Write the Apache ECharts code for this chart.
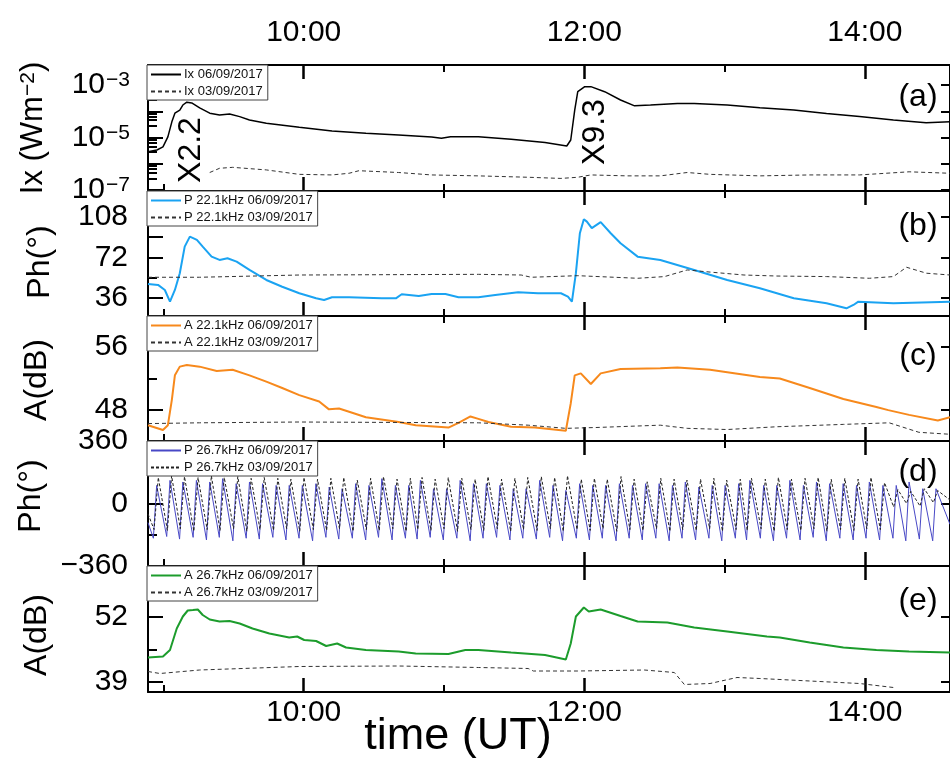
<!DOCTYPE html>
<html><head><meta charset="utf-8">
<script src="https://cdn.jsdelivr.net/npm/echarts@6/dist/echarts.min.js"></script>
<style>html,body{margin:0;padding:0;background:#fff}#c{width:950px;height:760px}</style>
</head><body><div id="c"></div>
<script>
// ---------- DATA (time in minutes of day UT) ----------
const timeMin = 533.4, timeMax = 876.4;
const xMajorTicks = [600, 720, 840];   // 10:00 12:00 14:00
const xMinorTicks = [540, 660, 780];   // 09:00 11:00 13:00

// (a) X-ray flux Ix (W m^-2)
const ix0609 = [[533.4,2.88e-6],[537.2,3.39e-6],[539.8,4.47e-6],[541.9,1.07e-5],[543.6,3.98e-5],[544.9,8.5e-5],[547.0,1.12e-4],[548.3,1.74e-4],[550.0,2.24e-4],[552.1,2.09e-4],[555.5,1.35e-4],[559.8,8.5e-5],[564.0,7.2e-5],[568.3,7.9e-5],[572.6,6.3e-5],[576.8,4.7e-5],[584.0,3.5e-5],[598.1,2.5e-5],[612.1,1.8e-5],[626.6,1.48e-5],[640.6,1.26e-5],[654.7,1.05e-5],[658.9,9.5e-6],[662.8,1.07e-5],[674.7,1.07e-5],[688.7,8.7e-6],[703.2,6.5e-6],[712.5,4.8e-6],[714.2,8.1e-6],[715.9,1.12e-4],[717.2,5.6e-4],[720.2,8.7e-4],[722.8,8.7e-4],[728.7,5.6e-4],[735.5,2.7e-4],[741.5,1.62e-4],[748.3,1.74e-4],[759.8,2.0e-4],[767.0,2.0e-4],[781.1,1.74e-4],[795.1,1.38e-4],[809.6,1.12e-4],[823.6,8.3e-5],[837.7,6.3e-5],[852.2,4.7e-5],[866.2,3.7e-5],[876.4,4.0e-5]];
const ix0309 = [[559.8,4.7e-7],[564.0,6.8e-7],[569.6,7.4e-7],[584.0,5.9e-7],[598.1,4.0e-7],[612.1,3.8e-7],[619.4,4.4e-7],[623.6,5.5e-7],[640.6,4.7e-7],[654.7,3.8e-7],[674.7,3.5e-7],[696.0,3.1e-7],[710.0,2.8e-7],[717.2,3.1e-7],[722.8,3.8e-7],[738.5,3.5e-7],[752.5,3.5e-7],[764.0,4.7e-7],[773.8,4.0e-7],[795.1,3.5e-7],[816.4,3.8e-7],[837.7,3.8e-7],[858.9,5.0e-7],[876.4,4.4e-7]];

// (b) phase 22.1 kHz (deg)
const p221_0609 = [[533.4,48.4],[537.7,47.6],[540.6,43.1],[542.8,32.7],[544.9,43.1],[547.0,58],[549.1,81.6],[551.3,90.5],[554.3,87.6],[556.8,81.6],[560.6,72.7],[564.0,69.8],[567.4,71.3],[571.3,68.3],[576.8,60.9],[584.0,52],[590.8,46],[598.1,40.2],[605.3,35.7],[608.7,34.2],[612.1,36.6],[619.4,36.6],[633.4,35.7],[639.4,35.7],[641.9,39.3],[649.2,37.8],[654.7,39.6],[660.6,39.6],[666.2,36.6],[674.7,36.6],[681.9,38.7],[691.7,41.1],[700.2,40.2],[710.0,40.2],[713.0,37.2],[714.7,32.7],[716.4,58],[718.1,93.5],[719.8,106],[721.1,103.8],[723.2,98],[727.0,103.3],[731.3,93.5],[735.5,84.6],[742.8,72.7],[752.5,69.8],[767.0,60.9],[781.1,52],[795.1,44.6],[809.6,35.7],[823.6,31.3],[832.1,26.8],[835.1,29.8],[837.2,32.7],[852.2,31.3],[876.4,32.7]];
const p221_0309 = [[533.4,54.4],[541.5,54.4],[555.5,54.4],[598.1,56.4],[674.7,57],[693.0,56.4],[697.3,54.4],[717.2,55.8],[742.8,53.5],[754.3,55],[764.0,60.9],[773.8,59],[788.3,56.4],[802.3,55.5],[823.6,55],[841.9,53.5],[852.2,55],[857.8,63.3],[866.3,58],[876.4,56.4]];

// (c) amplitude 22.1 kHz (dB)
const a221_0609 = [[533.4,46.1],[539.8,45.5],[541.9,46.1],[543.6,49.3],[544.9,52.4],[547.0,53.5],[550.0,53.7],[555.5,53.5],[562.8,52.95],[569.6,53.1],[576.8,52.4],[584.0,51.6],[590.8,50.8],[598.1,49.9],[606.6,49.1],[610.8,48.1],[615.1,48.2],[619.4,47.8],[626.6,47.1],[640.6,46.5],[647.9,46.1],[661.9,45.8],[666.2,46.4],[671.3,47.2],[674.7,46.9],[679.0,46.5],[688.7,45.9],[698.9,45.8],[712.1,45.4],[714.2,48.85],[715.9,52.4],[718.5,52.65],[722.8,51.3],[727.0,52.65],[735.5,53.2],[752.5,53.3],[759.8,53.4],[773.8,53.1],[795.1,52.2],[803.6,52.0],[816.4,50.8],[830.8,49.4],[844.9,48.4],[850.0,48.0],[858.9,47.4],[871.2,46.7],[876.4,47.1]];
const a221_0309 = [[533.4,46.3],[555.5,46.4],[598.1,46.5],[674.7,46.4],[696.0,46.1],[712.1,45.7],[724.5,45.8],[752.5,46.1],[764.0,45.7],[781.1,45.55],[802.3,45.9],[830.8,46.2],[850.4,46.4],[863.1,45.2],[876.4,44.95]];

// (d) phase 26.7 kHz (deg)
const p267_0609 = [[533.4,-110],[535.7,-200],[537.1,104],[541.4,-190],[542.8,133],[546.9,-205],[548.3,124],[552.7,-195],[554.1,133],[558.4,-210],[559.8,124],[563.9,-195],[565.3,143],[569.7,-215],[571.1,114],[575.4,-200],[576.8,124],[581.0,-205],[582.4,114],[586.8,-195],[588.2,104],[592.4,-210],[593.8,104],[598.0,-200],[599.4,104],[603.8,-215],[605.2,114],[609.5,-195],[610.9,95],[615.0,-205],[616.4,85],[620.8,-200],[622.2,114],[626.5,-210],[627.9,104],[632.0,-195],[633.4,143],[637.8,-210],[639.2,104],[643.5,-200],[644.9,104],[648.5,-205],[649.9,133],[654.1,-195],[655.5,85],[659.7,-210],[661.1,85],[665.5,-200],[666.9,133],[671.2,-215],[672.6,114],[676.7,-200],[678.1,114],[682.5,-195],[683.9,104],[688.2,-210],[689.6,85],[693.7,-200],[695.1,85],[699.5,-205],[700.9,133],[705.2,-195],[706.6,104],[710.7,-215],[712.1,75],[716.6,-200],[718.0,114],[722.2,-210],[723.6,104],[727.7,-200],[729.1,104],[733.6,-215],[735.0,114],[739.2,-200],[740.6,104],[744.8,-210],[746.2,114],[750.6,-200],[752.0,114],[756.3,-215],[757.7,104],[761.8,-200],[763.2,124],[767.6,-210],[769.0,95],[773.3,-200],[774.7,104],[778.8,-215],[780.2,104],[784.6,-200],[786.0,114],[789.4,-210],[790.8,133],[795.3,-200],[796.7,104],[800.9,-215],[802.3,104],[806.5,-200],[807.9,133],[812.3,-210],[813.7,104],[817.9,-195],[819.3,124],[823.5,-215],[824.9,114],[829.3,-200],[830.7,114],[835.0,-210],[836.4,104],[840.5,-200],[841.9,124],[846.3,-210],[847.7,104],[852.0,-200],[853.4,104],[857.5,-215],[858.9,124],[863.3,-205],[864.7,85],[869.0,-215],[870.4,85],[876.4,-120]];
const p267_0309 = [[533.4,-60],[536.0,-150],[537.8,150],[541.7,-155],[543.5,160],[547.2,-145],[549.0,155],[553.0,-160],[554.8,150],[558.7,-150],[560.5,160],[564.2,-155],[566.0,150],[570.0,-145],[571.8,155],[575.7,-160],[577.5,145],[581.3,-150],[583.1,150],[587.1,-155],[588.9,145],[592.7,-145],[594.5,140],[598.3,-160],[600.1,150],[604.1,-150],[605.9,140],[609.8,-155],[611.6,145],[615.3,-145],[617.1,150],[621.1,-160],[622.9,135],[626.8,-150],[628.6,145],[632.3,-155],[634.1,155],[638.1,-145],[639.9,140],[643.8,-160],[645.6,145],[648.8,-150],[650.6,150],[654.4,-155],[656.2,140],[660.0,-145],[661.8,150],[665.8,-160],[667.6,145],[671.5,-150],[673.3,140],[677.0,-155],[678.8,155],[682.8,-145],[684.6,140],[688.5,-160],[690.3,145],[694.0,-150],[695.8,150],[699.8,-155],[701.6,155],[705.5,-145],[707.3,150],[711.0,-160],[712.8,160],[716.9,-150],[718.7,140],[722.5,-155],[724.3,145],[728.0,-145],[729.8,140],[733.9,-160],[735.7,155],[739.5,-150],[741.3,140],[745.1,-155],[746.9,125],[750.9,-145],[752.7,145],[756.6,-160],[758.4,140],[762.1,-150],[763.9,135],[767.9,-155],[769.7,140],[773.6,-145],[775.4,145],[779.1,-160],[780.9,135],[784.9,-150],[786.7,140],[789.7,-155],[791.5,145],[795.6,-145],[797.4,140],[801.2,-160],[803.0,150],[806.8,-150],[808.6,140],[812.6,-155],[814.4,145],[818.2,-145],[820.0,150],[823.8,-160],[825.6,140],[829.6,-150],[831.4,145],[835.3,-155],[837.1,140],[840.8,-145],[842.6,150],[846.6,-150],[848.4,120],[852.3,-20],[854.1,80],[857.8,0],[859.6,70],[863.6,-15],[865.4,85],[869.3,5],[871.1,75],[876.4,20]];

// (e) amplitude 26.7 kHz (dB)
const a267_0609 = [[533.4,43.9],[539.8,44.1],[542.8,45.4],[545.7,49.7],[548.3,52.1],[550.4,53.3],[552.6,53.4],[554.7,53.5],[556.8,52.4],[559.8,51.5],[564.0,51.1],[568.3,51.2],[572.6,50.7],[578.1,49.7],[585.3,48.7],[593.8,47.9],[597.2,48.1],[600.2,47.4],[605.3,47.2],[609.6,46.2],[614.3,46.7],[618.1,45.9],[626.6,45.4],[640.6,45.1],[647.9,44.7],[661.9,44.6],[669.1,45.4],[674.7,45.4],[688.7,44.9],[703.2,44.4],[712.1,43.5],[714.2,46.7],[716.4,52.1],[719.8,53.9],[721.9,53.1],[727.0,53.5],[735.5,52.2],[742.8,51.1],[755.5,50.9],[767.0,49.9],[781.1,49.1],[798.1,48.1],[803.6,47.9],[816.4,46.9],[830.8,45.9],[844.9,45.4],[858.9,45.1],[876.4,44.9]];
const a267_0309 = [[533.4,41.1],[538.5,40.7],[555.5,41.4],[598.1,42.1],[640.6,42.2],[674.7,41.9],[696.0,41.7],[698.2,41.2],[717.2,41.2],[745.7,41.4],[758.5,40.9],[762.8,38.5],[773.8,38.7],[785.3,39.9],[795.1,39.7],[816.4,39.2],[837.7,38.7],[852.2,37.9]];

// tick labels / tick positions
const phLabels221 = [36, 72, 108], phMajor221 = [36, 72, 90, 108], phMinor221 = [54];
const aLabels221 = [48, 56], aMinor221 = [52];
const phLabels267 = [-360, 0, 360], phMinor267 = [-180, 180];
const aLabels267 = [39, 52], aMinor267 = [45.5, 58.5];

// ---------- CHART ----------
const FONT = 'Liberation Sans, Arial, sans-serif';
const chart = echarts.init(document.getElementById('c'), null, {renderer: 'canvas'});
const BLACK = '#000';
const dashed = {color: '#333', width: 1, type: [4, 3]};

const panels = [
  {top: 65, height: 126, type: 'log', min: 9.3e-8, max: 5.8e-3,
   series: [{name: 'Ix 06/09/2017', data: ix0609, line: {color: BLACK, width: 1.5}}, {name: 'Ix 03/09/2017', data: ix0309, line: dashed}]},
  {top: 191, height: 125, type: 'value', min: 20, max: 131, labels: phLabels221, major: phMajor221, minor: phMinor221, right: phLabels221,
   series: [{name: 'P 22.1kHz 06/09/2017', data: p221_0609, line: {color: '#1aa3f2', width: 2}}, {name: 'P 22.1kHz 03/09/2017', data: p221_0309, line: dashed}]},
  {top: 316, height: 125, type: 'value', min: 44.1, max: 59.9, labels: aLabels221, major: aLabels221, minor: aMinor221, right: aLabels221,
   series: [{name: 'A 22.1kHz 06/09/2017', data: a221_0609, line: {color: '#f7891c', width: 2}}, {name: 'A 22.1kHz 03/09/2017', data: a221_0309, line: dashed}]},
  {top: 441, height: 125, type: 'value', min: -360, max: 360, labels: phLabels267, major: [0, -360, 360], minor: phMinor267, right: [0],
   series: [{name: 'P 26.7kHz 06/09/2017', data: p267_0609, line: {color: '#4848c6', width: 1}}, {name: 'P 26.7kHz 03/09/2017', data: p267_0309, line: {color: '#222', width: 1, type: [3, 2]}}]},
  {top: 566, height: 126, type: 'value', min: 37, max: 62.2, labels: aLabels267, major: aLabels267, minor: aMinor267, right: aLabels267,
   series: [{name: 'A 26.7kHz 06/09/2017', data: a267_0609, line: {color: '#1c9c2c', width: 2}}, {name: 'A 26.7kHz 03/09/2017', data: a267_0309, line: dashed}]}
];

const grid = [], xAxis = [], yAxis = [], series = [], legend = [];
const tickStyle = {color: BLACK, width: 2};
const labelBase = {color: BLACK, fontSize: 30, fontFamily: FONT};
const fmtTime = v => (v / 60) + ':00';
const fmtNum = v => v < 0 ? '\u2212' + (-v) : String(v);
const frameLine = {show: true, onZero: false, lineStyle: {color: BLACK, width: 2}};

panels.forEach((p, i) => {
  grid.push({left: 148, right: -4, top: p.top, height: p.height, containLabel: false});
  const xb = {type: 'value', gridIndex: i, min: timeMin, max: timeMax, splitLine: {show: false}};
  xAxis.push(Object.assign({}, xb, {position: 'bottom', axisLine: frameLine,
    axisTick: {show: true, inside: true, length: 14, lineStyle: {color: BLACK, width: 2.5}, customValues: xMajorTicks},
    axisLabel: Object.assign({show: i === 4, customValues: xMajorTicks, formatter: fmtTime, margin: 6}, labelBase)}));
  xAxis.push(Object.assign({}, xb, {position: 'top', axisLine: frameLine,
    axisTick: {show: true, inside: true, length: 14, lineStyle: {color: BLACK, width: 2.5}, customValues: xMajorTicks},
    axisLabel: Object.assign({show: i === 0, customValues: xMajorTicks, formatter: fmtTime, margin: 17}, labelBase)}));
  ['bottom', 'top'].forEach(pos => xAxis.push(Object.assign({}, xb, {position: pos,
    axisLine: {show: false, onZero: false}, axisLabel: {show: false},
    axisTick: {show: true, inside: true, length: 7, lineStyle: tickStyle, customValues: xMinorTicks}})));

  if (p.type === 'log') {
    yAxis.push({type: 'log', logBase: 10, gridIndex: i, min: p.min, max: p.max, position: 'left', splitNumber: 5,
      splitLine: {show: false}, axisLine: frameLine,
      axisTick: {show: true, inside: true, length: 15, lineStyle: tickStyle},
      minorTick: {show: true, splitNumber: 5, length: 9, lineStyle: {color: BLACK, width: 2}},
      axisLabel: {color: BLACK, margin: 18, fontFamily: FONT,
        formatter: v => { const l = Math.log10(v), e = Math.round(l);
          if (Math.abs(l - e) > 0.01 || e % 2 === 0) return '';
          return '{b|10}{s|\u2212' + (-e) + '}'; },
        rich: {b: {fontSize: 30, fontFamily: FONT, color: BLACK}, s: {fontSize: 21, fontFamily: FONT, color: BLACK, verticalAlign: 'top', padding: [0, 0, 0, 1]}}}});
    yAxis.push({type: 'log', logBase: 10, gridIndex: i, min: p.min, max: p.max, position: 'left', show: false});
    yAxis.push({type: 'log', logBase: 10, gridIndex: i, min: p.min, max: p.max, position: 'right', splitNumber: 5,
      splitLine: {show: false}, axisLabel: {show: false}, axisLine: frameLine,
      axisTick: {show: true, inside: true, length: 9, lineStyle: tickStyle}});
  } else {
    const yb = {type: 'value', gridIndex: i, min: p.min, max: p.max, splitLine: {show: false}};
    yAxis.push(Object.assign({}, yb, {position: 'left', axisLine: frameLine,
      axisTick: {show: true, inside: true, length: 15, lineStyle: tickStyle, customValues: p.major},
      axisLabel: Object.assign({customValues: p.labels, formatter: fmtNum, margin: 20}, labelBase)}));
    yAxis.push(Object.assign({}, yb, {position: 'left', axisLine: {show: false, onZero: false}, axisLabel: {show: false},
      axisTick: {show: true, inside: true, length: 9, lineStyle: tickStyle, customValues: p.minor}}));
    yAxis.push(Object.assign({}, yb, {position: 'right', axisLabel: {show: false}, axisLine: frameLine,
      axisTick: {show: true, inside: true, length: 9, lineStyle: tickStyle, customValues: p.right}}));
  }

  p.series.forEach(s => series.push({type: 'line', name: s.name, data: s.data, xAxisIndex: 4 * i, yAxisIndex: 3 * i,
    symbol: 'none', showSymbol: false, silent: true, animation: false, lineStyle: s.line, itemStyle: {color: s.line.color}}));

  legend.push({data: p.series.map(s => s.name), left: 147, top: p.top, orient: 'vertical', itemGap: 4,
    itemWidth: 30, itemHeight: 12, padding: [3, 5, 2, 3], borderColor: '#444', borderWidth: 1, borderRadius: 0,
    backgroundColor: '#fff', selectedMode: false,
    itemStyle: {color: 'rgba(0,0,0,0)', borderWidth: 0, opacity: 0},
    textStyle: {fontSize: 13, fontFamily: FONT, color: '#111', padding: [0, 0, 0, -2]}});
});

const txt = (x, y, text, size, rot, rich) => ({type: 'text', x: x, y: y, rotation: rot || 0, z: 10,
  style: {text: text, fontSize: size, fontFamily: FONT, fill: BLACK, align: 'center', verticalAlign: 'middle', rich: rich}});

const graphic = [
  txt(33, 128, '{a|Ix (Wm}{s|\u22122}{a|)}', 31, Math.PI / 2, {a: {fontSize: 31, fontFamily: FONT, fill: BLACK}, s: {fontSize: 21, fontFamily: FONT, fill: BLACK, verticalAlign: 'top'}}),
  txt(40, 262, 'Ph(\u00B0)', 32, Math.PI / 2),
  txt(37, 380, 'A(dB)', 32, Math.PI / 2),
  txt(31, 496, 'Ph(\u00B0)', 32, Math.PI / 2),
  txt(37, 635, 'A(dB)', 32, Math.PI / 2),
  txt(918, 97, '(a)', 32), txt(918, 226, '(b)', 32), txt(918, 356, '(c)', 32),
  txt(918, 472, '(d)', 32), txt(918, 601, '(e)', 32),
  txt(191, 150, 'X2.2', 32, Math.PI / 2),
  txt(595, 132, 'X9.3', 32, Math.PI / 2),
  txt(458, 737, 'time (UT)', 45)
];

chart.setOption({animation: false, backgroundColor: '#fff', grid, xAxis, yAxis, series, legend, graphic});
</script></body></html>
